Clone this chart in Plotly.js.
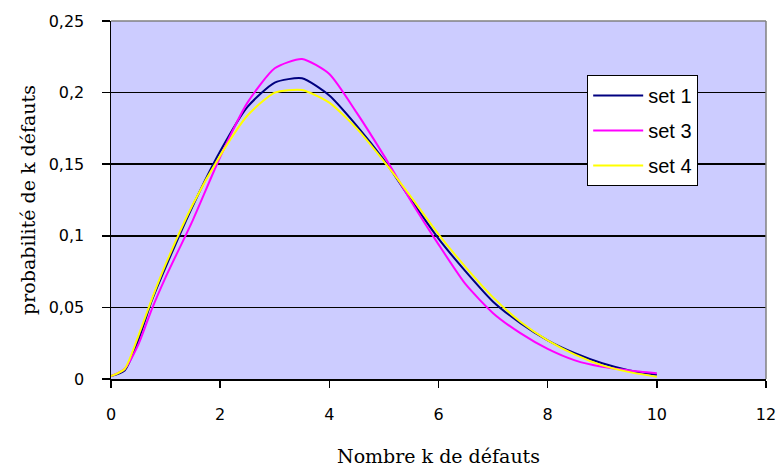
<!DOCTYPE html>
<html>
<head>
<meta charset="utf-8">
<script src="https://cdn.plot.ly/plotly-3.0.1.min.js"></script>
<style>html,body{margin:0;padding:0;background:#fff;}#chart{width:779px;height:472px;}</style>
</head>
<body>
<div id="chart"></div>
<script>
const kValues = [0, 0.25, 0.5, 0.75, 1, 1.5, 2, 2.5, 3, 3.5, 4, 4.5, 5, 5.5, 6, 6.5, 7, 7.5, 8, 8.5, 9, 9.5, 10];
const set1 = [0.002, 0.006, 0.027, 0.055, 0.078, 0.121, 0.159, 0.190, 0.207, 0.210, 0.198, 0.177, 0.153, 0.125, 0.098, 0.075, 0.054, 0.039, 0.027, 0.018, 0.011, 0.006, 0.003];
const set3 = [0.002, 0.007, 0.024, 0.049, 0.071, 0.111, 0.155, 0.193, 0.217, 0.2235, 0.213, 0.186, 0.156, 0.124, 0.094, 0.066, 0.046, 0.032, 0.021, 0.013, 0.0085, 0.006, 0.004];
const set4 = [0.002, 0.007, 0.030, 0.056, 0.080, 0.122, 0.156, 0.184, 0.200, 0.2018, 0.193, 0.175, 0.152, 0.127, 0.101, 0.078, 0.057, 0.040, 0.027, 0.017, 0.0095, 0.0048, 0.0016];
const seriesNames = ["set 1", "set 3", "set 4"];
const seriesColors = ["#000080", "#FF00FF", "#FFFF00"];
const xTicks = [0, 2, 4, 6, 8, 10, 12];
const yTickVals = [0, 0.05, 0.1, 0.15, 0.2, 0.25];
const yTickText = ["0", "0,05", "0,1", "0,15", "0,2", "0,25"];

const allSeries = [set1, set3, set4];
const traces = allSeries.map((ys, i) => ({
  x: kValues, y: ys, type: "scatter", mode: "lines",
  name: seriesNames[i], legendgroup: "g" + i,
  line: {color: seriesColors[i], width: 2, shape: "spline", smoothing: 0.6}
}));

const layout = {
  width: 779, height: 472,
  margin: {l: 111, r: 13, t: 21, b: 93},
  paper_bgcolor: "#ffffff",
  plot_bgcolor: "#CCCCFF",
  showlegend: true,
  legend: {
    x: 0.727, y: 0.849, xanchor: "left", yanchor: "top",
    bgcolor: "#ffffff", bordercolor: "#000000", borderwidth: 1,
    font: {family: "Liberation Sans, Arial, sans-serif", size: 20, color: "#000"},
    traceorder: "grouped", tracegroupgap: 6,
    itemwidth: 50, entrywidth: 122
  },
  xaxis: {
    range: [0, 12], tickvals: xTicks, ticktext: xTicks.map(String),
    showgrid: false, zeroline: false,
    showline: true, linecolor: "#000", linewidth: 1.5,
    ticks: "outside", ticklen: 7, tickcolor: "#000", tickwidth: 1.5,
    ticklabelstandoff: 13,
    tickfont: {family: "DejaVu Sans, sans-serif", size: 16, color: "#000"},
    title: {text: "Nombre k de défauts", standoff: 27,
      font: {family: "DejaVu Serif, serif", size: 19, color: "#000"}}
  },
  yaxis: {
    range: [0, 0.25], tickvals: yTickVals, ticktext: yTickText,
    showgrid: true, gridcolor: "#000", gridwidth: 1.5,
    zeroline: false,
    showline: true, linecolor: "#000", linewidth: 1.5,
    ticks: "outside", ticklen: 8, tickcolor: "#000", tickwidth: 1.5,
    ticklabelstandoff: 14,
    tickfont: {family: "DejaVu Sans, sans-serif", size: 16, color: "#000"},
    title: {text: "probabilité de k défauts", standoff: 8,
      font: {family: "DejaVu Serif, serif", size: 19, color: "#000"}}
  },
  shapes: [
    {type: "line", xref: "paper", yref: "paper", x0: 0, x1: 1, y0: 1, y1: 1,
      line: {color: "#808080", width: 1.5}},
    {type: "line", xref: "paper", yref: "paper", x0: 1, x1: 1, y0: 0, y1: 1,
      line: {color: "#808080", width: 1.5}}
  ]
};

Plotly.newPlot("chart", traces, layout, {displayModeBar: false, staticPlot: true});
</script>
</body>
</html>
